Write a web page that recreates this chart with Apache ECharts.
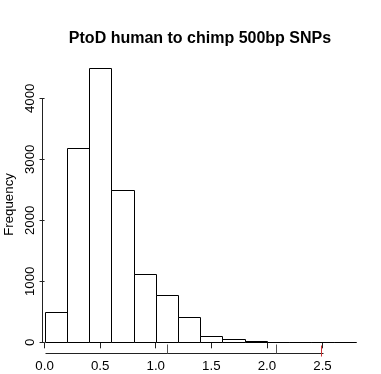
<!DOCTYPE html>
<html><head><meta charset="utf-8">
<script src="https://cdn.jsdelivr.net/npm/echarts@6/dist/echarts.min.js"></script>
<style>html,body{margin:0;padding:0;background:#fff}#c{width:381px;height:374px}</style>
</head><body><div id="c"></div>
<script>
// ---- data ----
const binStarts = [0.0, 0.2, 0.4, 0.6, 0.8, 1.0, 1.2, 1.4, 1.6, 1.8, 2.0, 2.2, 2.4, 2.6];
const binWidth = 0.2;
const counts = [490, 3190, 4500, 2500, 1115, 775, 420, 108, 50, 18, 8, 4, 2, 1];
const xTicks = [0.0, 0.5, 1.0, 1.5, 2.0, 2.5];
const yTicks = [0, 1000, 2000, 3000, 4000];
const greyMarks = [1.098, 2.078];
const redMarks = [2.486];
const titleText = 'PtoD human to chimp 500bp SNPs';
const yName = 'Frequency';

// ---- layout ----
const xMin = -0.023, xMax = 2.9;
const yMin = -180, yMax = 4700;
const FONT = 'Liberation Sans, Arial, Helvetica, sans-serif';

const bars = binStarts.map((s, i) => [s, s + binWidth, counts[i]]);

// segments: [x1, y1, x2, y2, colorIndex]
const colors = ['#222222', '#555555', '#cc3333'];
const segments = [];
segments.push([xTicks[0], yMin, xTicks[xTicks.length - 1], yMin, 0]);
segments.push([xMin, yTicks[0], xMin, yTicks[yTicks.length - 1], 0]);
greyMarks.forEach(v => segments.push([v, -35, v, yMin, 1]));
redMarks.forEach(v => segments.push([v, -45, v, -225, 2]));

const chart = echarts.init(document.getElementById('c'), null, {renderer: 'canvas'});
const crisp = v => Math.round(v) + 0.5;

chart.setOption({
  animation: false,
  backgroundColor: '#ffffff',
  title: {
    text: titleText,
    left: 195, top: 26, textAlign: 'center',
    textStyle: {fontFamily: FONT, fontSize: 16, fontWeight: 'bold', color: '#000'}
  },
  grid: {left: 42, right: 14, top: 55.6, bottom: 20.7, containLabel: false, outerBoundsMode: 'none'},
  xAxis: {
    type: 'value', min: xMin, max: xMax,
    splitLine: {show: false},
    axisLine: {show: false},
    axisTick: {show: true, customValues: xTicks, length: 6, lineStyle: {color: '#222', width: 1}},
    axisLabel: {customValues: xTicks, formatter: v => v.toFixed(1), fontFamily: FONT, fontSize: 13.3, color: '#000', margin: 7}
  },
  yAxis: {
    type: 'value', min: yMin, max: yMax,
    name: yName, nameLocation: 'middle', nameRotate: 90, nameGap: 24,
    nameTextStyle: {fontFamily: FONT, fontSize: 13.3, color: '#000'},
    splitLine: {show: false},
    axisLine: {show: false},
    axisTick: {show: true, customValues: yTicks, length: 5, lineStyle: {color: '#222', width: 1}},
    axisLabel: {customValues: yTicks, rotate: 90, formatter: v => String(v), fontFamily: FONT, fontSize: 13.3, color: '#000', margin: 5}
  },
  series: [
    {
      type: 'custom', clip: false, silent: true,
      data: bars,
      encode: {x: [0, 1], y: 2},
      renderItem: function (params, api) {
        const p1 = api.coord([api.value(0), api.value(2)]);
        const p2 = api.coord([api.value(1), 0]);
        const x1 = crisp(p1[0]), x2 = crisp(p2[0]);
        const y1 = crisp(p1[1]), y2 = crisp(p2[1]);
        return {
          type: 'rect',
          shape: {x: x1, y: y1, width: x2 - x1, height: y2 - y1},
          style: {fill: '#ffffff', stroke: '#000000', lineWidth: 1}
        };
      }
    },
    {
      type: 'custom', clip: false, silent: true,
      data: segments,
      encode: {x: [0, 2], y: [1, 3]},
      renderItem: function (params, api) {
        const a = api.coord([api.value(0), api.value(1)]);
        const b = api.coord([api.value(2), api.value(3)]);
        return {
          type: 'line',
          shape: {x1: crisp(a[0]), y1: crisp(a[1]), x2: crisp(b[0]), y2: crisp(b[1])},
          style: {stroke: colors[api.value(4)], lineWidth: 1}
        };
      }
    }
  ]
});
</script>
</body></html>
